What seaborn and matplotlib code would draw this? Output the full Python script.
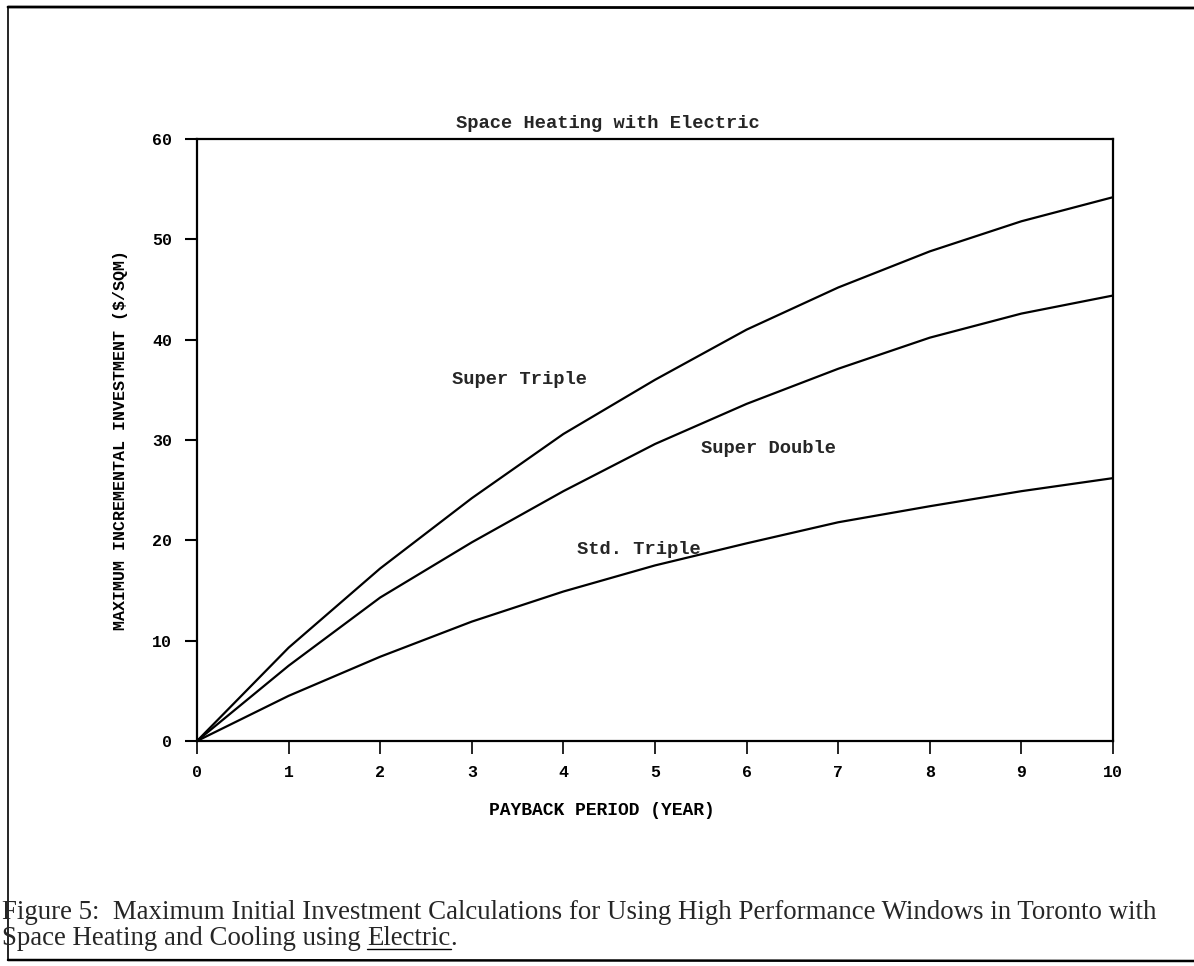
import matplotlib
matplotlib.use("Agg")
import matplotlib.pyplot as plt
import seaborn as sns
import pandas as pd
from matplotlib.lines import Line2D

years = [0, 1, 2, 3, 4, 5, 6, 7, 8, 9, 10]
super_triple = [0, 9.3, 17.2, 24.2, 30.6, 36.0, 41.0, 45.2, 48.8, 51.8, 54.2]
super_double = [0, 7.5, 14.3, 19.8, 24.9, 29.6, 33.6, 37.1, 40.2, 42.6, 44.4]
std_triple = [0, 4.5, 8.4, 11.9, 14.9, 17.5, 19.7, 21.8, 23.4, 24.9, 26.2]
series_names = ["Super Triple", "Super Double", "Std. Triple"]
x_ticks = [0, 1, 2, 3, 4, 5, 6, 7, 8, 9, 10]
y_ticks = [0, 10, 20, 30, 40, 50, 60]

df = pd.DataFrame({
    "year": years * 3,
    "value": super_triple + super_double + std_triple,
    "series": [series_names[0]] * len(years) + [series_names[1]] * len(years) + [series_names[2]] * len(years),
})

sns.set_theme(style="ticks")
plt.rcParams["font.family"] = ["Liberation Mono", "DejaVu Sans"]

fig = plt.figure(figsize=(11.94, 9.66), dpi=100)
ax = fig.add_axes([197 / 1194, 1 - 741 / 966, (1113 - 197) / 1194, (741 - 139) / 966])

sns.lineplot(data=df, x="year", y="value", hue="series", palette=["black"] * 3,
             legend=False, ax=ax, linewidth=1.6)

ax.set_xlim(0, 10)
ax.set_ylim(0, 60)
ax.set_xticks(x_ticks)
ax.set_yticks(y_ticks)
ax.set_xticklabels([str(t) for t in x_ticks], fontsize=12, fontweight="bold")
ax.set_yticklabels([str(t) for t in y_ticks], fontsize=12, fontweight="bold")
ax.tick_params(axis="x", direction="out", length=9, width=1.2, pad=8, colors="black")
ax.tick_params(axis="y", direction="out", length=9, width=1.5, pad=9, colors="black")
for sp in ax.spines.values():
    sp.set_visible(True)
    sp.set_color("black")
    sp.set_linewidth(1.6)

ax.set_xlabel("PAYBACK PERIOD (YEAR)", fontsize=13, fontweight="bold", color="black")
ax.set_ylabel("MAXIMUM INCREMENTAL INVESTMENT ($/SQM)", fontsize=12, fontweight="bold", color="black")
ax.xaxis.set_label_coords((602 - 197) / 916, (741 - 802) / 602)
ax.yaxis.set_label_coords((128 - 197) / 916, 0.5)

fig.text(608 / 1194, 1 - 124 / 966, "Space Heating with Electric", ha="center", va="center",
         fontsize=13.5, fontweight="bold")

ax.text(2.78, 36.0, "Super Triple", fontsize=13.5, fontweight="bold", va="center", ha="left")
ax.text(5.5, 29.2, "Super Double", fontsize=13.5, fontweight="bold", va="center", ha="left")
ax.text(4.15, 19.1, "Std. Triple", fontsize=13.5, fontweight="bold", va="center", ha="left")

# caption
cap_font = ["Liberation Serif", "DejaVu Serif"]
cap_size = 19.4
fig.text(2 / 1194, 1 - 919 / 966,
         "Figure 5:  Maximum Initial Investment Calculations for Using High Performance Windows in Toronto with",
         fontsize=cap_size, family=cap_font, va="baseline", ha="left")
t2 = fig.text(2 / 1194, 1 - 945 / 966, "Space Heating and Cooling using ", fontsize=cap_size,
              family=cap_font, va="baseline", ha="left")
fig.canvas.draw()
bb = t2.get_window_extent()
x_end = bb.x1 / fig.bbox.width
t3 = fig.text(x_end, 1 - 945 / 966, "Electric", fontsize=cap_size, family=cap_font, va="baseline", ha="left")
fig.canvas.draw()
bb3 = t3.get_window_extent()
fig.text(bb3.x1 / fig.bbox.width, 1 - 945 / 966, ".", fontsize=cap_size, family=cap_font, va="baseline", ha="left")
fig.add_artist(Line2D([bb3.x0 / fig.bbox.width, bb3.x1 / fig.bbox.width],
                     [1 - 949 / 966, 1 - 949 / 966], color="black", linewidth=1.0))

# page border (top, left, bottom)
fig.add_artist(Line2D([8 / 1194, 1.0], [1 - 7 / 966, 1 - 8 / 966], color="black", linewidth=2.0))
fig.add_artist(Line2D([8 / 1194, 8 / 1194], [1 - 7 / 966, 1 - 960 / 966], color="black", linewidth=1.2))
fig.add_artist(Line2D([8 / 1194, 1.0], [1 - 960 / 966, 1 - 961 / 966], color="black", linewidth=1.8))

fig.savefig("out.png", dpi=100, facecolor="white")
